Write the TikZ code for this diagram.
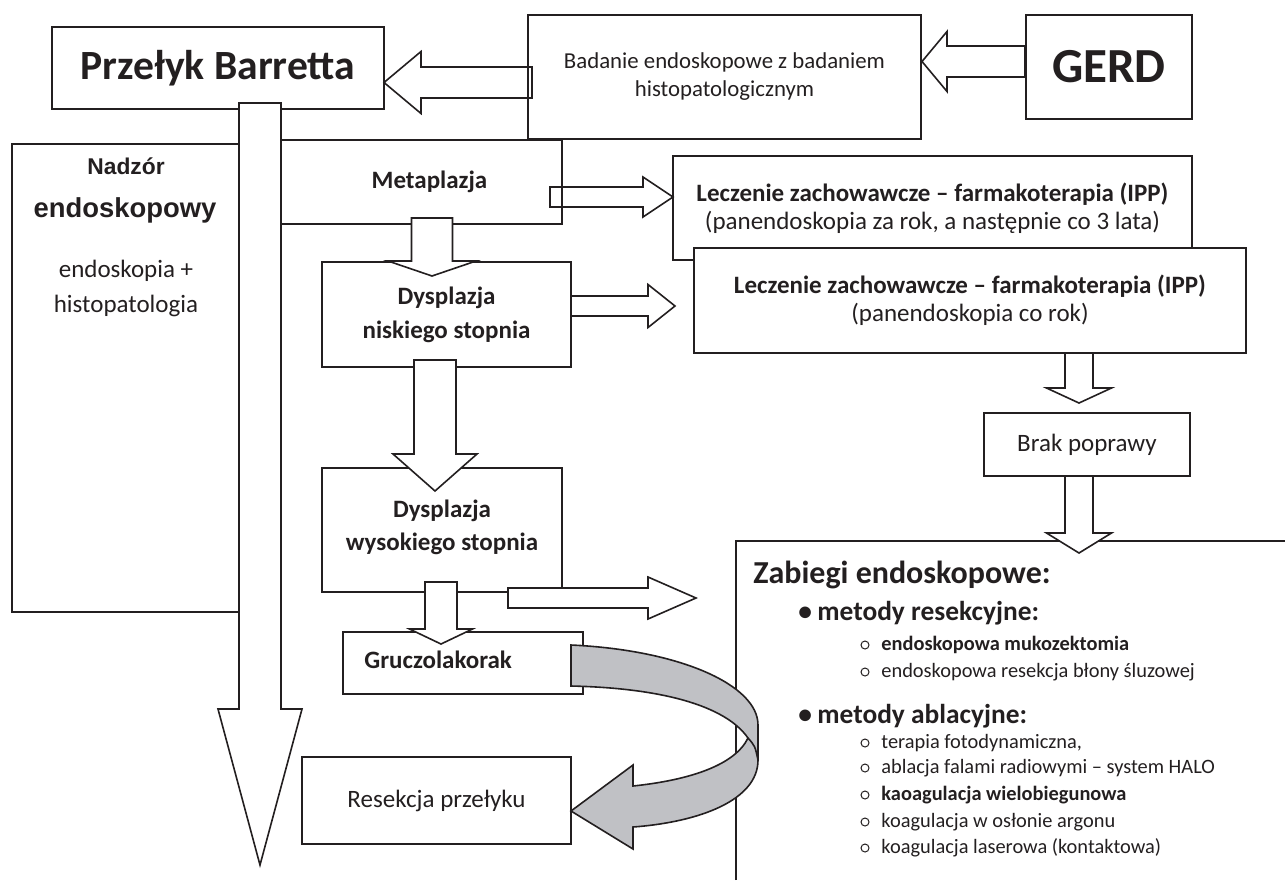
\documentclass[tikz,border=0pt]{standalone}
\usepackage{fontspec}
\setmainfont{Carlito}
\newfontfamily\arialfont{Liberation Sans}
\usepackage{xcolor}
\usetikzlibrary{calc}
\definecolor{ink}{RGB}{35,31,32}
\definecolor{ribbon}{RGB}{192,193,197}
\newcommand{\BlockArrow}[6][fill=white]{
	\coordinate (hb) at ($(#3)!#6!(#2)$);
	\draw[draw=ink, line width=0.8pt, #1] ($(#2)!#4!90:(#3)$) -- ($(hb)!#4!90:(#3)$) -- ($(hb)!#5!90:(#3)$) -- (#3) -- ($(hb)!#5!-90:(#3)$) -- ($(hb)!#4!-90:(#3)$) -- ($(#2)!#4!-90:(#3)$) -- cycle;
}

\begin{document}
\begin{tikzpicture}[x=0.5pt, y=-0.5pt, line join=miter,
		box/.style={draw=ink, line width=0.8pt, inner sep=0pt, align=center, text=ink},
		txt/.style={inner sep=0pt, text=ink}]

	\useasboundingbox (0,0) rectangle (1285,880);

	% boxes
	\node[box, minimum width=113.5pt, minimum height=234pt] (nadzor) at (125.5,378) {};
	\node[box, minimum width=166pt, minimum height=41pt, font=\bfseries\fontsize{20.8}{24}\selectfont] (barrett) at (218,68) {Przełyk Barretta};
	\node[box, minimum width=196.5pt, minimum height=62pt, font=\fontsize{11.4}{14}\selectfont] (badanie) at (724.5,77) {Badanie endoskopowe z badaniem\\histopatologicznym};
	\node[box, minimum width=83pt, minimum height=52pt, font=\bfseries\fontsize{24.5}{28}\selectfont] (gerd) at (1109,67) {GERD};
	\node[box, minimum width=140.5pt, minimum height=42pt, font=\bfseries\fontsize{12.5}{14}\selectfont] (meta) at (421.5,182) {\hspace*{8pt}Metaplazja};
	\node[box, minimum width=259.5pt, minimum height=52pt, font=\fontsize{12.5}{14}\selectfont] (lecz1) at (932.5,208) {\textbf{Leczenie zachowawcze – farmakoterapia (IPP)}\\(panendoskopia za rok, a następnie co 3 lata)};
	\node[box, fill=white, minimum width=276pt, minimum height=52.5pt, font=\fontsize{12.5}{14}\selectfont] (lecz2) at (970,300.5) {\textbf{Leczenie zachowawcze – farmakoterapia (IPP)}\\(panendoskopia co rok)};
	\node[box, minimum width=124.5pt, minimum height=52.5pt, font=\bfseries\fontsize{12.5}{17}\selectfont] (dns) at (446.5,314.5) {Dysplazja\\niskiego stopnia};
	\node[box, minimum width=120pt, minimum height=62pt, font=\bfseries\fontsize{12.5}{16.5}\selectfont] (dws) at (442,530) {Dysplazja\\wysokiego stopnia\\[-11.5pt]\mbox{}};
	\node[box, minimum width=120pt, minimum height=31pt] (gruc) at (463,663) {};
	\node[box, minimum width=134.5pt, minimum height=43.5pt, font=\fontsize{12.5}{14}\selectfont] (resek) at (436.5,800.5) {Resekcja przełyku};
	\node[box, minimum width=103pt, minimum height=31.5pt, font=\fontsize{12.5}{14}\selectfont] (brak) at (1087,444.5) {Brak poprawy};
	\coordinate (zab) at (736,541);
	\draw[draw=ink, line width=0.8pt] (zab |- 0,880) -- (zab) -- (zab -| 1285,0);

	% texts
	\node[txt, anchor=base, font=\arialfont\bfseries\fontsize{11.4}{13}\selectfont] (nadzorA) at (126,174) {Nadzór};
	\node[txt, anchor=base, font=\arialfont\bfseries\fontsize{13.7}{16}\selectfont] (nadzorB) at (125,217) {endoskopowy};
	\node[txt, anchor=base, font=\fontsize{12.5}{14}\selectfont] (nadzorC) at (126,277) {endoskopia +};
	\node[txt, anchor=base, font=\fontsize{12.5}{14}\selectfont] (nadzorD) at (126,312) {histopatologia};
	\node[txt, anchor=base west, font=\bfseries\fontsize{12.5}{14}\selectfont] (gructxt) at (364,668) {Gruczolakorak};

	% block arrows
	\coordinate (gerdS) at (1025,61.5);  \coordinate (gerdT) at (922,61.5);
	\coordinate (badS) at (532,82.5);    \coordinate (badT) at (384,82.5);
	\coordinate (metaS) at (550,197);    \coordinate (metaT) at (673,197);
	\coordinate (dnsS) at (571,306);     \coordinate (dnsT) at (675,306);
	\coordinate (dwsS) at (508,598);     \coordinate (dwsT) at (696,598);
	\coordinate (survS) at (260,103);    \coordinate (survT) at (260,865);
	\coordinate (downA) at (432,218);    \coordinate (downB) at (432,276);
	\coordinate (downC) at (435,360);    \coordinate (downD) at (435,491);
	\coordinate (downE) at (441,582);    \coordinate (downF) at (441,644);
	\coordinate (brakS) at (1079,353);   \coordinate (brakT) at (1079,403);
	\coordinate (zabS) at (1079,476);    \coordinate (zabT) at (1079,553);

	\BlockArrow{gerdS}{gerdT}{7.75pt}{15pt}{12.5pt}
	\BlockArrow[fill=none]{badS}{badT}{7.75pt}{15.5pt}{18.5pt}
	\BlockArrow[fill=none]{metaS}{metaT}{5pt}{10pt}{15pt}
	\BlockArrow{dnsS}{dnsT}{5pt}{10.75pt}{13.5pt}
	\BlockArrow{dwsS}{dwsT}{5pt}{10.5pt}{24pt}
	\BlockArrow{survS}{survT}{10.5pt}{21pt}{78pt}
	\BlockArrow{downA}{downB}{10.25pt}{22pt}{7.5pt}
	\BlockArrow{downC}{downD}{10.5pt}{21pt}{18.5pt}
	\BlockArrow{downE}{downF}{8pt}{15.75pt}{7.5pt}
	\BlockArrow{brakS}{brakT}{7pt}{16.25pt}{7.5pt}
	\BlockArrow{zabS}{zabT}{7pt}{16.25pt}{10pt}

	% curved arrow
	\filldraw[fill=ribbon, draw=ink, line width=0.8pt] (571,645) .. controls (680,650) and (758,685) .. (758,725) -- (758,760) .. controls (758,800) and (700,822) .. (633,827) -- (633,849) -- (571,811) -- (633,765) -- (633,786) .. controls (690,780) and (735,765) .. (748,738) .. controls (725,705) and (660,688) .. (571,686) -- cycle;
	\draw[draw=ink, line width=0.8pt] (748,738) .. controls (755,746) .. (758,760);

	% zabiegi
	\node[txt, anchor=base west, font=\bfseries\fontsize{16}{19}\selectfont] (zabtitle) at (753,583) {Zabiegi endoskopowe:};
	\node[txt, anchor=base west, font=\bfseries\fontsize{13.7}{16}\selectfont] (resekcyjne) at (798,620) {\makebox[9.5pt][l]{•}metody resekcyjne:};
	\node[txt, anchor=base west, font=\bfseries\fontsize{13.7}{16}\selectfont] (ablacyjne) at (798,723) {\makebox[9.5pt][l]{•}metody ablacyjne:};
	\foreach \y/\txt in {650/{\textbf{endoskopowa mukozektomia}}, 677/{endoskopowa resekcja błony śluzowej}, 748/{terapia fotodynamiczna,}, 773/{ablacja falami radiowymi – system HALO}, 800/{\textbf{kaoagulacja wielobiegunowa}}, 827/{koagulacja w osłonie argonu}, 853/{koagulacja laserowa (kontaktowa)}}{
		\draw[draw=ink, line width=0.5pt] (865,\y-5) circle[radius=2pt];
		\node[txt, anchor=base west, font=\fontsize{10.2}{12}\selectfont] (item\y) at (881,\y) {\txt};
	}

\end{tikzpicture}
\end{document}
